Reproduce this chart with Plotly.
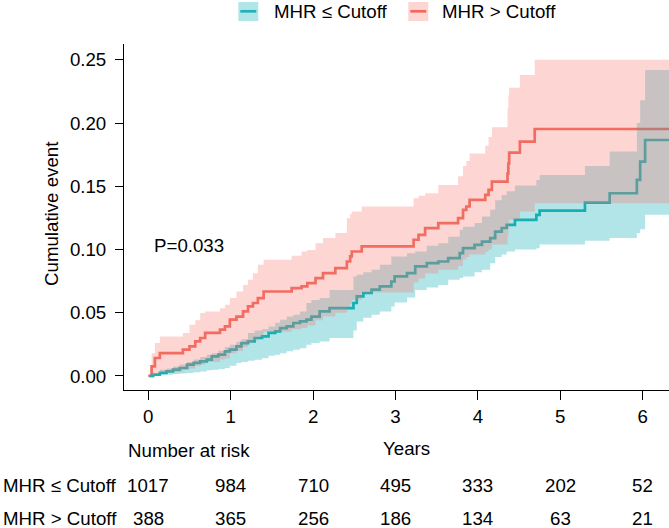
import plotly.graph_objects as go

# ---------------- data ----------------
# Kaplan-Meier cumulative event curves (step functions)
high_t = [0, 0.04, 0.08, 0.14, 0.42, 0.50, 0.57, 0.63, 0.69, 0.87, 0.93, 0.99, 1.07, 1.15, 1.21, 1.27,
          1.33, 1.40, 1.74, 1.86, 1.93, 2.03, 2.12, 2.27, 2.41, 2.45, 2.47, 2.59, 3.22, 3.28, 3.36,
          3.52, 3.76, 3.82, 3.86, 3.90, 4.09, 4.13, 4.17, 4.36, 4.37, 4.38, 4.51, 4.69, 6.40]
high_v = [0, 0.0076, 0.0142, 0.018, 0.0208, 0.0234, 0.0273, 0.030, 0.034, 0.0366, 0.0392, 0.0445,
          0.047, 0.051, 0.055, 0.0577, 0.0616, 0.0668, 0.0695, 0.0708, 0.0734, 0.0774, 0.0813,
          0.0853, 0.0905, 0.0945, 0.0984, 0.1024, 0.1077, 0.1116, 0.1169, 0.1208, 0.1248, 0.1314,
          0.134, 0.1393, 0.1432, 0.1472, 0.1537, 0.160, 0.168, 0.1766, 0.1853, 0.1953, 0.1953]
high_lo = [0, 0.0005, 0.002, 0.003, 0.005, 0.006, 0.008, 0.009, 0.011, 0.013, 0.014, 0.018, 0.020,
           0.023, 0.026, 0.028, 0.031, 0.035, 0.037, 0.038, 0.040, 0.044, 0.047, 0.050, 0.054,
           0.057, 0.060, 0.066, 0.074, 0.077, 0.081, 0.084, 0.087, 0.092, 0.094, 0.096, 0.098,
           0.100, 0.104, 0.110, 0.116, 0.1235, 0.130, 0.1366, 0.1366]
high_hi = [0, 0.018, 0.026, 0.0313, 0.034, 0.0405, 0.044, 0.0497, 0.051, 0.0535, 0.0563, 0.0616,
           0.0668, 0.072, 0.076, 0.0813, 0.0879, 0.0918, 0.095, 0.0984, 0.0997, 0.105, 0.109,
           0.113, 0.1248, 0.128, 0.130, 0.134, 0.1406, 0.1425, 0.1445, 0.151, 0.158, 0.166,
           0.170, 0.176, 0.182, 0.189, 0.1967, 0.212, 0.222, 0.228, 0.238, 0.25, 0.25]

low_t = [0.02, 0.06, 0.14, 0.22, 0.30, 0.38, 0.47, 0.55, 0.63, 0.71, 0.77, 0.85, 0.93, 0.99, 1.07,
         1.13, 1.21, 1.29, 1.38, 1.46, 1.54, 1.60, 1.68, 1.76, 1.84, 1.92, 1.98, 2.08, 2.20, 2.49,
         2.53, 2.61, 2.71, 2.81, 2.95, 2.99, 3.14, 3.24, 3.38, 3.52, 3.64, 3.78, 3.82, 3.96, 4.05,
         4.15, 4.21, 4.29, 4.35, 4.45, 4.71, 4.75, 5.30, 5.60, 5.93, 5.97, 6.03, 6.40]
low_v = [0, 0.001, 0.0024, 0.0037, 0.005, 0.0063, 0.009, 0.0103, 0.0116, 0.0129, 0.0155, 0.0168,
         0.0195, 0.0208, 0.0234, 0.026, 0.0273, 0.030, 0.0313, 0.034, 0.0352, 0.0379, 0.0392,
         0.0419, 0.0432, 0.0445, 0.047, 0.051, 0.0537, 0.0577, 0.0629, 0.0656, 0.0682, 0.0708,
         0.0747, 0.0787, 0.0813, 0.0866, 0.0892, 0.0905, 0.0932, 0.0971, 0.1011, 0.1037, 0.1063,
         0.109, 0.1142, 0.117, 0.1195, 0.1235, 0.1274, 0.1308, 0.137, 0.1445, 0.155, 0.1695,
         0.1866, 0.1866]
low_lo = [0, 0.0005, 0.001, 0.001, 0.0015, 0.002, 0.0024, 0.003, 0.0035, 0.0045, 0.005, 0.0055,
          0.0063, 0.008, 0.0103, 0.011, 0.012, 0.0129, 0.014, 0.016, 0.0168, 0.018, 0.0195, 0.0208,
          0.022, 0.0247, 0.026, 0.0273, 0.030, 0.036, 0.043, 0.046, 0.0484, 0.051, 0.055, 0.058,
          0.062, 0.068, 0.070, 0.072, 0.076, 0.0775, 0.0787, 0.082, 0.084, 0.0892, 0.094, 0.096,
          0.0984, 0.100, 0.101, 0.104, 0.107, 0.109, 0.113, 0.116, 0.1274, 0.1274]
low_hi = [0, 0.002, 0.005, 0.006, 0.0075, 0.009, 0.011, 0.013, 0.015, 0.0168, 0.018, 0.020, 0.023,
          0.0247, 0.027, 0.029, 0.034, 0.036, 0.037, 0.0392, 0.042, 0.0445, 0.047, 0.0484, 0.051,
          0.0577, 0.060, 0.0616, 0.068, 0.0787, 0.080, 0.082, 0.084, 0.088, 0.0945, 0.0945, 0.097,
          0.0984, 0.103, 0.105, 0.110, 0.1156, 0.118, 0.121, 0.126, 0.1314, 0.139, 0.143, 0.146,
          0.1506, 0.155, 0.159, 0.166, 0.1774, 0.200, 0.218, 0.242, 0.242]

p_text = "P=0.033"
risk_times = [0, 1, 2, 3, 4, 5, 6]
risk_low = [1017, 984, 710, 495, 333, 202, 52]
risk_high = [388, 365, 256, 186, 134, 63, 21]
group_names = ["MHR \u2264 Cutoff", "MHR > Cutoff"]
y_ticks = [0, 0.05, 0.10, 0.15, 0.20, 0.25]
x_ticks = [0, 1, 2, 3, 4, 5, 6]

# ---------------- styling ----------------
TEAL = "#20B2B5"
RED = "#F0685E"
TEAL_F = "rgba(0,170,178,0.3)"
RED_F = "rgba(248,118,109,0.31)"
FONT = "Liberation Sans, Arial, Helvetica, sans-serif"
FS = 18.7

fig = go.Figure()
# lines first (ribbons drawn on top, like ggsurvplot)
fig.add_trace(go.Scatter(x=high_t, y=high_v, mode="lines", line=dict(color=RED, width=2.7, shape="hv"),
                         showlegend=False, hoverinfo="skip"))
fig.add_trace(go.Scatter(x=low_t, y=low_v, mode="lines", line=dict(color=TEAL, width=2.7, shape="hv"),
                         showlegend=False, hoverinfo="skip"))
# teal ribbon
fig.add_trace(go.Scatter(x=low_t, y=low_lo, mode="lines", line=dict(width=0, shape="hv"),
                         showlegend=False, hoverinfo="skip"))
fig.add_trace(go.Scatter(x=low_t, y=low_hi, mode="lines", line=dict(width=0, shape="hv"),
                         fill="tonexty", fillcolor=TEAL_F, showlegend=False, hoverinfo="skip"))
# red ribbon
fig.add_trace(go.Scatter(x=high_t, y=high_lo, mode="lines", line=dict(width=0, shape="hv"),
                         showlegend=False, hoverinfo="skip"))
fig.add_trace(go.Scatter(x=high_t, y=high_hi, mode="lines", line=dict(width=0, shape="hv"),
                         fill="tonexty", fillcolor=RED_F, showlegend=False, hoverinfo="skip"))

# geometry of the plotting region (pixels)
W, H = 669, 528
L, R, T, B = 124, 0, 44, 138
PW, PH = W - L - R, H - T - B


def px(xp):
    return (xp - L) / PW


def py(yp):
    return (H - B - yp) / PH


txt_font = dict(size=FS, family=FONT, color="black")
ann = []
# P value
ann.append(dict(x=0.045, y=0.103, xref="x", yref="y", text=p_text, showarrow=False,
                xanchor="left", yanchor="middle", font=txt_font))
# y title
ann.append(dict(x=px(51), y=py(214), xref="paper", yref="paper", text="Cumulative event",
                textangle=-90, showarrow=False, xanchor="center", yanchor="middle", font=txt_font))
# Years
ann.append(dict(x=px(406), y=py(449), xref="paper", yref="paper", text="Years", showarrow=False,
                xanchor="center", yanchor="middle", font=txt_font))
# Number at risk
ann.append(dict(x=px(126), y=py(450), xref="paper", yref="paper", text="Number at risk",
                showarrow=False, xanchor="left", yanchor="middle", font=txt_font))
# risk table rows
for name, vals, yp in [(group_names[0], risk_low, 486), (group_names[1], risk_high, 518)]:
    ann.append(dict(x=px(1), y=py(yp), xref="paper", yref="paper", text=name, showarrow=False,
                    xanchor="left", yanchor="middle", font=txt_font))
    for t, v in zip(risk_times, vals):
        ann.append(dict(x=t, y=py(yp), xref="x", yref="paper", text=str(v), showarrow=False,
                        xanchor="center", yanchor="middle", font=txt_font))

# custom legend (ggplot style keys)
shapes = []
for name, fcol, lcol, x0, tx in [(group_names[0], TEAL_F, TEAL, 238.3, 271.5),
                                  (group_names[1], RED_F, RED, 408.3, 440)]:
    shapes.append(dict(type="rect", xref="paper", yref="paper", x0=px(x0), x1=px(x0 + 20),
                       y0=py(21), y1=py(2), fillcolor=fcol, line=dict(width=0), layer="above"))
    shapes.append(dict(type="line", xref="paper", yref="paper", x0=px(x0 + 2), x1=px(x0 + 18),
                       y0=py(11.3), y1=py(11.3), line=dict(color=lcol, width=2.7), layer="above"))
    ann.append(dict(x=px(tx), y=py(11.5), xref="paper", yref="paper", text=name, showarrow=False,
                    xanchor="left", yanchor="middle", font=txt_font))

fig.update_layout(
    width=W, height=H,
    margin=dict(l=L, r=R, t=T, b=B, pad=0),
    paper_bgcolor="white", plot_bgcolor="white",
    font=dict(family=FONT, size=FS, color="black"),
    showlegend=False,
    annotations=ann, shapes=shapes,
    xaxis=dict(range=[-0.295, 6.32], tickvals=x_ticks, ticks="outside", ticklen=9, tickwidth=1,
               tickcolor="black", showline=True, linecolor="black", linewidth=1, showgrid=False,
               zeroline=False, tickfont=txt_font, ticklabelstandoff=1),
    yaxis=dict(range=[-0.0111, 0.2625], tickvals=y_ticks, tickformat=".2f", ticks="outside",
               ticklen=8, tickwidth=1, tickcolor="black", showline=True, linecolor="black",
               linewidth=1, showgrid=False, zeroline=False, tickfont=txt_font,
               ticklabelstandoff=5),
)

fig.write_html("out.html", config={"displayModeBar": False},
               post_script="document.body.style.margin='0';document.body.style.overflow='hidden';")
